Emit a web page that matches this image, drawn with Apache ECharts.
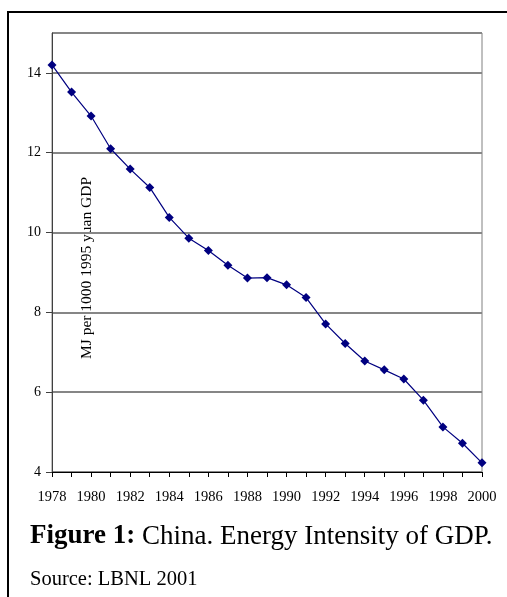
<!DOCTYPE html>
<html>
<head>
<meta charset="utf-8">
<script src="https://cdn.jsdelivr.net/npm/echarts@6/dist/echarts.min.js"></script>
<style>
  html, body { margin: 0; padding: 0; background: #fff; }
  #chart { width: 507px; height: 597px; }
</style>
</head>
<body>
<div id="chart"></div>
<script>
// years on the x axis
const years = ['1978', '1979', '1980', '1981', '1982', '1983', '1984', '1985', '1986', '1987', '1988',
    '1989', '1990', '1991', '1992', '1993', '1994', '1995', '1996', '1997', '1998', '1999', '2000']
// MJ per 1000 1995 yuan GDP
const intensity = [14.2, 13.52, 12.92, 12.1, 11.59, 11.13, 10.38, 9.86, 9.55, 9.18, 8.86,
    8.87, 8.69, 8.37, 7.71, 7.22, 6.78, 6.56, 6.33, 5.8, 5.13, 4.72, 4.23]

const yTitle = 'MJ per 1000 1995 yuan GDP'
const caption = 'China. Energy Intensity of GDP.'
const source = 'Source: LBNL 2001'

const serif = '"Liberation Serif", "Times New Roman", serif'

let myChart = echarts.init(document.getElementById('chart'))

myChart.setOption({
    animation: false,
    backgroundColor: '#fff',
    grid: {
        left: 52, top: 33, right: 25, bottom: 125,
        show: true, borderColor: '#808080', borderWidth: 1
    },
    xAxis: {
        type: 'category',
        data: years,
        boundaryGap: false,
        axisLine: { lineStyle: { color: '#000', width: 1 } },
        axisTick: { interval: 0, length: 5, lineStyle: { color: '#000' } },
        axisLabel: { interval: 1, color: '#000', fontFamily: serif, fontSize: 14.5, margin: 18 },
        splitLine: { show: false }
    },
    yAxis: {
        type: 'value',
        min: 4, max: 15, interval: 2,
        axisLine: { show: true, lineStyle: { color: '#404040', width: 1 } },
        axisTick: { show: true, length: 6, lineStyle: { color: '#404040' } },
        axisLabel: { color: '#000', fontFamily: serif, fontSize: 14, margin: 11, showMaxLabel: false },
        splitLine: { lineStyle: { color: '#868686', width: 2 } }
    },
    series: [{
        type: 'line',
        data: intensity,
        symbol: 'diamond',
        symbolSize: 9,
        itemStyle: { color: '#000080' },
        lineStyle: { color: '#000080', width: 1.2 }
    }],
    graphic: [
        {
            type: 'rect',
            shape: { x: 8, y: 12, width: 700, height: 800 },
            style: { fill: 'none', stroke: '#000', lineWidth: 2 },
            silent: true
        },
        {
            type: 'text',
            x: 87, y: 268,
            rotation: Math.PI / 2,
            style: {
                text: yTitle, fill: '#000', font: '15.5px ' + serif,
                align: 'center', verticalAlign: 'middle'
            }
        },
        {
            type: 'text',
            left: 30, top: 523,
            style: {
                text: '{b|Figure 1:} ' + caption,
                fill: '#000',
                font: '27px ' + serif,
                rich: {
                    b: { fontWeight: 'bold', fontSize: 27, fontFamily: serif, fill: '#000' }
                }
            }
        },
        {
            type: 'text',
            left: 30, top: 569,
            style: { text: source, fill: '#000', font: '20.5px ' + serif }
        }
    ]
})
</script>
</body>
</html>
